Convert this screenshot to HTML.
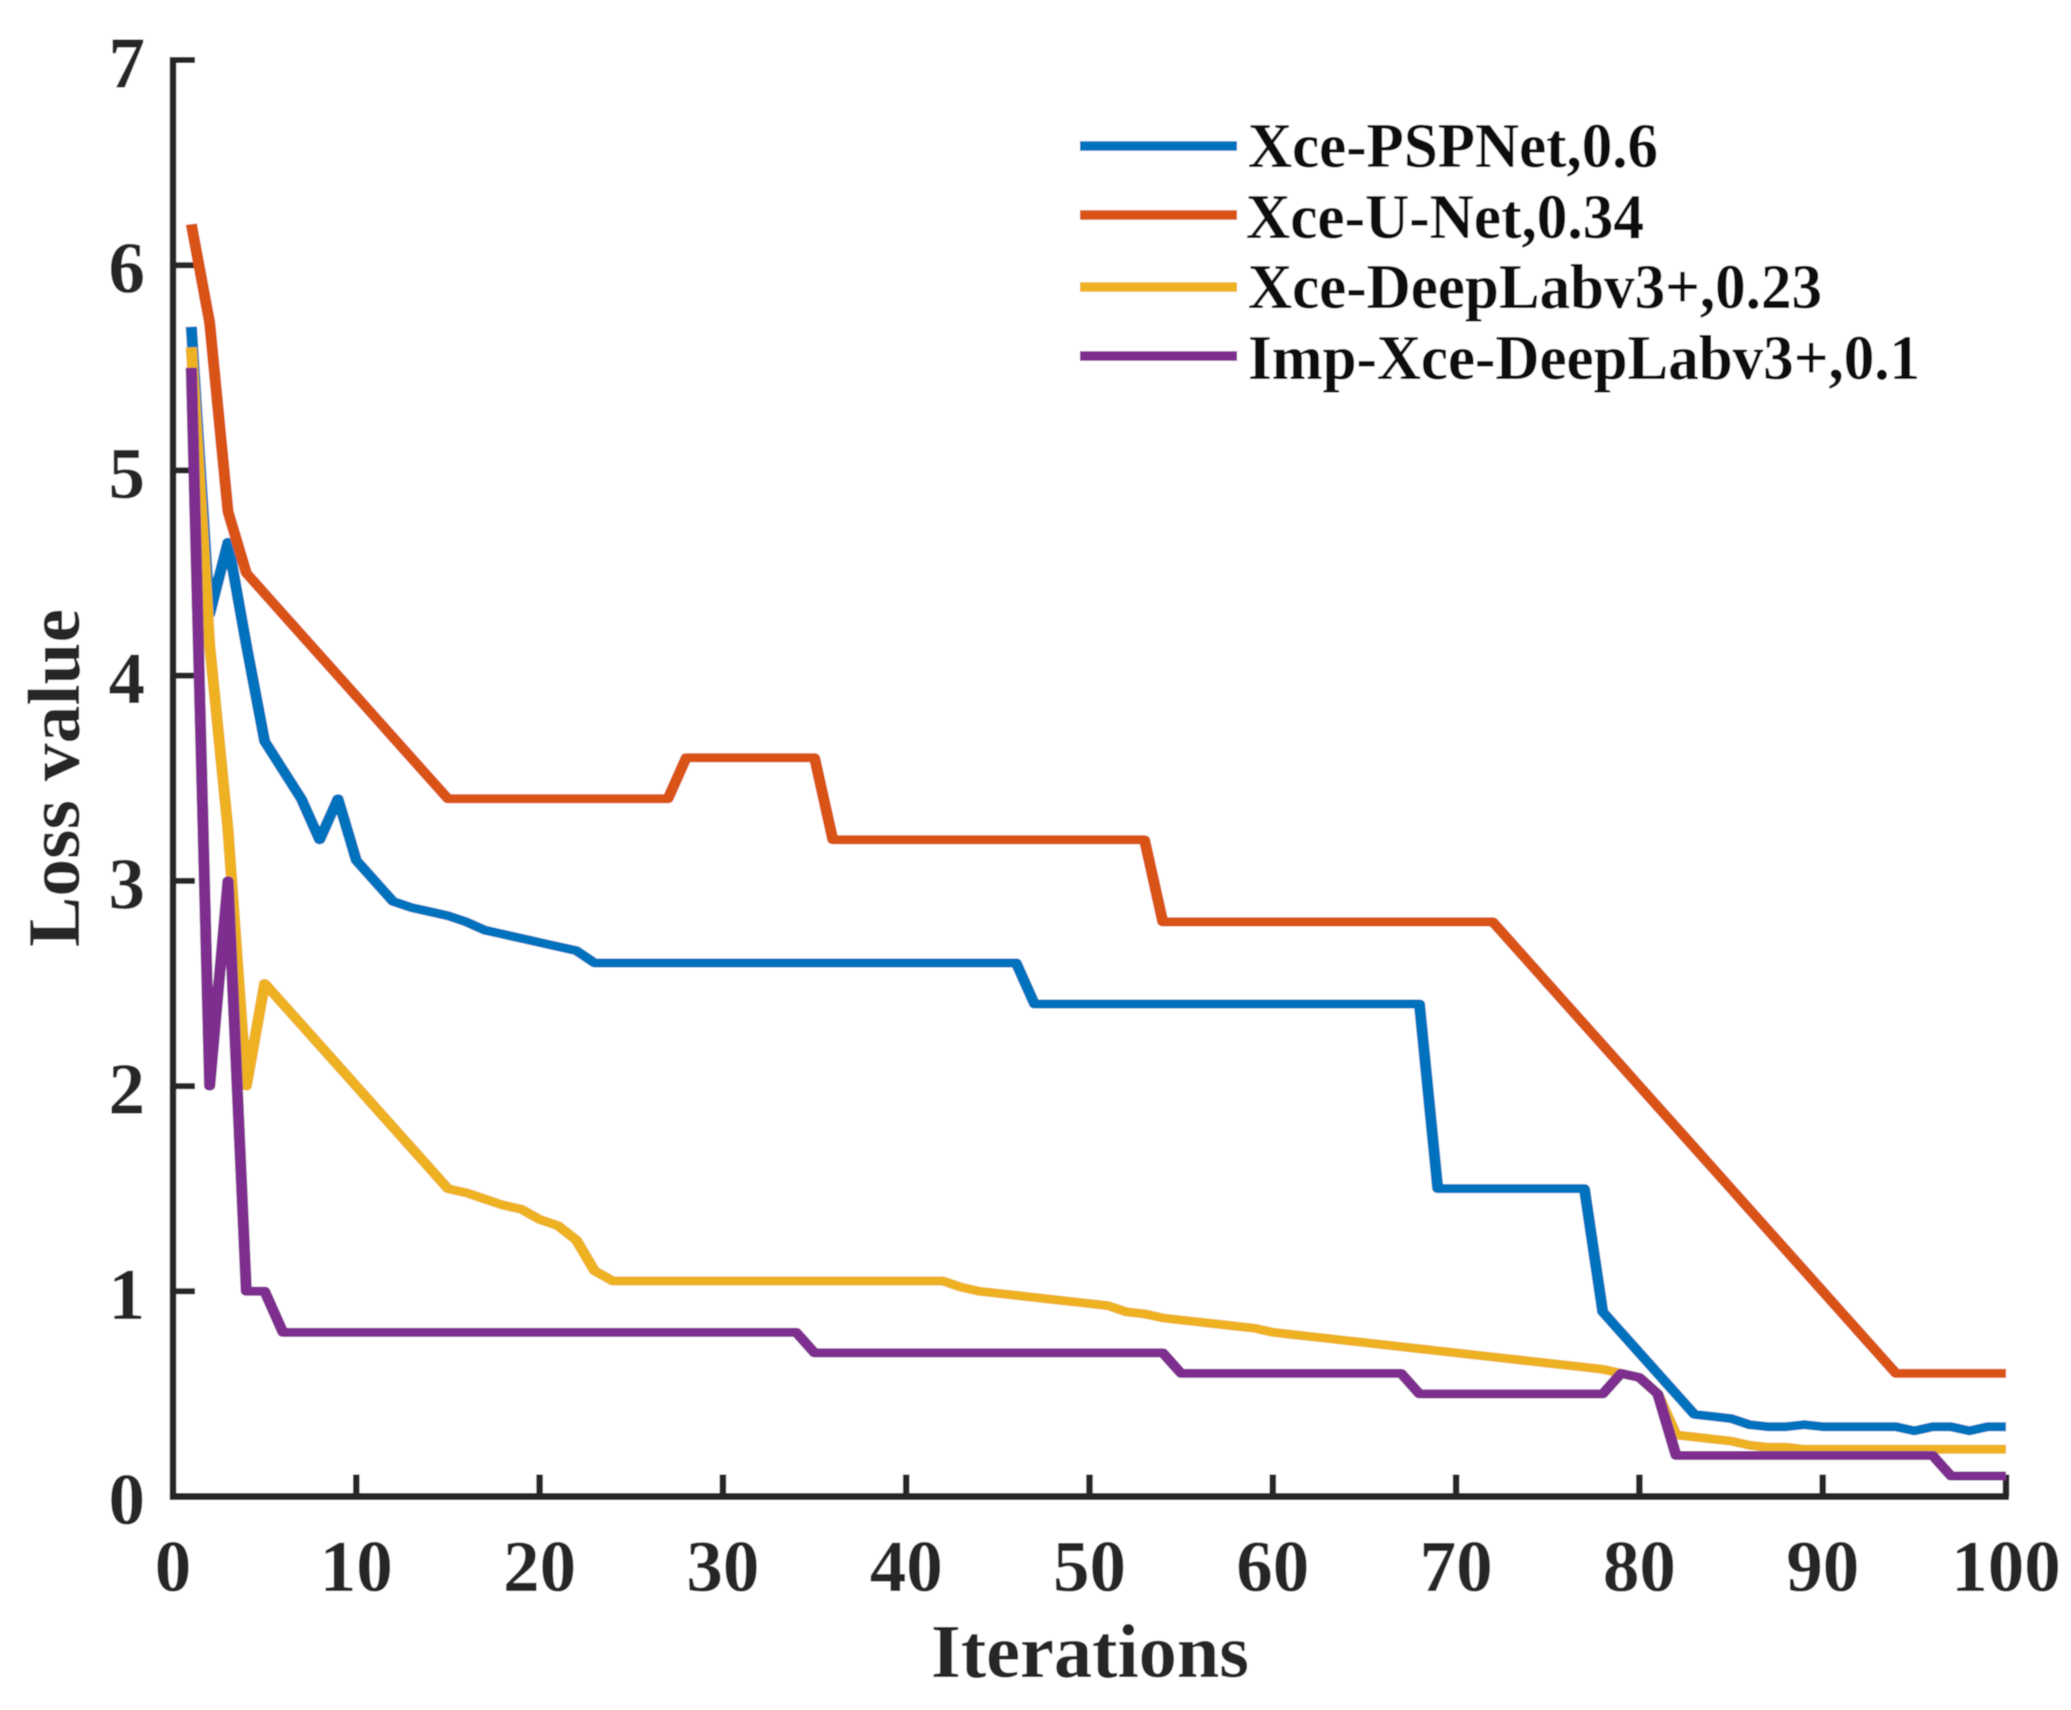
<!DOCTYPE html>
<html lang="en">
<head>
<meta charset="utf-8">
<title>Loss value vs iterations</title>
<style>
html,body{margin:0;padding:0;background:#fff;}
svg{display:block;}
text{font-family:"Liberation Serif",serif;font-weight:bold;fill:#262626;}
.leg{fill:#111;}
</style>
</head>
<body>
<svg id="chart" xmlns="http://www.w3.org/2000/svg" width="2071" height="1710" viewBox="0 0 2071 1710">
  <defs>
    <filter id="soft" x="0" y="0" width="100%" height="100%" filterUnits="objectBoundingBox">
      <feGaussianBlur stdDeviation="0.6"/>
    </filter>
  </defs>
  <rect x="0" y="0" width="2071" height="1710" fill="#ffffff"/>
  <g filter="url(#soft)">
  <rect x="0" y="0" width="2071" height="1710" fill="#ffffff"/>
  <g id="axes"></g>
  <g id="series" transform="scale(1.25 1)"></g>
  <text x="1090" y="1677" font-size="76" text-anchor="middle" textLength="318" lengthAdjust="spacingAndGlyphs">Iterations</text>
  <text transform="translate(79,778) rotate(-90)" font-size="74" text-anchor="middle" textLength="338" lengthAdjust="spacingAndGlyphs">Loss value</text>
  <g>
    <line x1="1080" x2="1237" y1="146" y2="146" stroke="#0072BD" stroke-width="9.5"/>
    <text class="leg" x="1248" y="167" font-size="63" textLength="410" lengthAdjust="spacingAndGlyphs">Xce-PSPNet,0.6</text>
    <line x1="1080" x2="1237" y1="215" y2="215" stroke="#D95319" stroke-width="9.5"/>
    <text class="leg" x="1246" y="238" font-size="63" textLength="398" lengthAdjust="spacingAndGlyphs">Xce-U-Net,0.34</text>
    <line x1="1080" x2="1237" y1="287" y2="287" stroke="#EDB120" stroke-width="9.5"/>
    <text class="leg" x="1248" y="308" font-size="63" textLength="574" lengthAdjust="spacingAndGlyphs">Xce-DeepLabv3+,0.23</text>
    <line x1="1080" x2="1237" y1="356" y2="356" stroke="#7E2F8E" stroke-width="9.5"/>
    <text class="leg" x="1248" y="379" font-size="63" textLength="672" lengthAdjust="spacingAndGlyphs">Imp-Xce-DeepLabv3+,0.1</text>
  </g>
  </g>
</svg>
<script>
const xTickLabels = [0, 10, 20, 30, 40, 50, 60, 70, 80, 90, 100];
const yTickLabels = [0, 1, 2, 3, 4, 5, 6, 7];
const xceUNet = [
  6.2, 5.72, 4.8, 4.5, 4.4, 4.3, 4.2, 4.1, 4.0, 3.9,
  3.8, 3.7, 3.6, 3.5, 3.4, 3.4, 3.4, 3.4, 3.4, 3.4,
  3.4, 3.4, 3.4, 3.4, 3.4, 3.4, 3.4, 3.6, 3.6, 3.6,
  3.6, 3.6, 3.6, 3.6, 3.6, 3.2, 3.2, 3.2, 3.2, 3.2,
  3.2, 3.2, 3.2, 3.2, 3.2, 3.2, 3.2, 3.2, 3.2, 3.2,
  3.2, 3.2, 3.2, 2.8, 2.8, 2.8, 2.8, 2.8, 2.8, 2.8,
  2.8, 2.8, 2.8, 2.8, 2.8, 2.8, 2.8, 2.8, 2.8, 2.8,
  2.8, 2.8, 2.7, 2.6, 2.5, 2.4, 2.3, 2.2, 2.1, 2.0,
  1.9, 1.8, 1.7, 1.6, 1.5, 1.4, 1.3, 1.2, 1.1, 1.0,
  0.9, 0.8, 0.7, 0.6, 0.6, 0.6, 0.6, 0.6, 0.6, 0.6
];
const xcePSPNet = [
  5.7, 4.3, 4.65, 4.15, 3.68, 3.54, 3.4, 3.2, 3.4, 3.1,
  3.0, 2.9, 2.87, 2.85, 2.83, 2.8, 2.76, 2.74, 2.72, 2.7,
  2.68, 2.66, 2.6, 2.6, 2.6, 2.6, 2.6, 2.6, 2.6, 2.6,
  2.6, 2.6, 2.6, 2.6, 2.6, 2.6, 2.6, 2.6, 2.6, 2.6,
  2.6, 2.6, 2.6, 2.6, 2.6, 2.6, 2.4, 2.4, 2.4, 2.4,
  2.4, 2.4, 2.4, 2.4, 2.4, 2.4, 2.4, 2.4, 2.4, 2.4,
  2.4, 2.4, 2.4, 2.4, 2.4, 2.4, 2.4, 2.4, 1.5, 1.5,
  1.5, 1.5, 1.5, 1.5, 1.5, 1.5, 1.5, 0.9, 0.8, 0.7,
  0.6, 0.5, 0.4, 0.39, 0.38, 0.35, 0.34, 0.34, 0.35, 0.34,
  0.34, 0.34, 0.34, 0.34, 0.32, 0.34, 0.34, 0.32, 0.34, 0.34
];
const xceDeepLab = [
  5.6, 4.15, 3.25, 2.0, 2.5, 2.4, 2.3, 2.2, 2.1, 2.0,
  1.9, 1.8, 1.7, 1.6, 1.5, 1.48, 1.45, 1.42, 1.4, 1.35,
  1.32, 1.25, 1.1, 1.05, 1.05, 1.05, 1.05, 1.05, 1.05, 1.05,
  1.05, 1.05, 1.05, 1.05, 1.05, 1.05, 1.05, 1.05, 1.05, 1.05,
  1.05, 1.05, 1.02, 1.0, 0.99, 0.98, 0.97, 0.96, 0.95, 0.94,
  0.93, 0.9, 0.89, 0.87, 0.86, 0.85, 0.84, 0.83, 0.82, 0.8,
  0.79, 0.78, 0.77, 0.76, 0.75, 0.74, 0.73, 0.72, 0.71, 0.7,
  0.69, 0.68, 0.67, 0.66, 0.65, 0.64, 0.63, 0.62, 0.6, 0.58,
  0.5, 0.3, 0.29, 0.28, 0.27, 0.25, 0.24, 0.24, 0.23, 0.23,
  0.23, 0.23, 0.23, 0.23, 0.23, 0.23, 0.23, 0.23, 0.23, 0.23
];
const impXceDeepLab = [
  5.5, 2.0, 3.0, 1.0, 1.0, 0.8, 0.8, 0.8, 0.8, 0.8,
  0.8, 0.8, 0.8, 0.8, 0.8, 0.8, 0.8, 0.8, 0.8, 0.8,
  0.8, 0.8, 0.8, 0.8, 0.8, 0.8, 0.8, 0.8, 0.8, 0.8,
  0.8, 0.8, 0.8, 0.8, 0.7, 0.7, 0.7, 0.7, 0.7, 0.7,
  0.7, 0.7, 0.7, 0.7, 0.7, 0.7, 0.7, 0.7, 0.7, 0.7,
  0.7, 0.7, 0.7, 0.7, 0.6, 0.6, 0.6, 0.6, 0.6, 0.6,
  0.6, 0.6, 0.6, 0.6, 0.6, 0.6, 0.6, 0.5, 0.5, 0.5,
  0.5, 0.5, 0.5, 0.5, 0.5, 0.5, 0.5, 0.5, 0.6, 0.58,
  0.5, 0.2, 0.2, 0.2, 0.2, 0.2, 0.2, 0.2, 0.2, 0.2,
  0.2, 0.2, 0.2, 0.2, 0.2, 0.2, 0.1, 0.1, 0.1, 0.1
];

const NS = 'http://www.w3.org/2000/svg';
const X0 = 173, X100 = 2006, Y0 = 1496.5, Y7 = 60;
const STROKE_STRETCH = 1.25;
function xScale(v) { return X0 + (X100 - X0) * v / 100; }
function yScale(v) { return Y0 - (Y0 - Y7) * v / 7; }

const seriesGroup = document.getElementById('series');
const axesGroup = document.getElementById('axes');

function drawSeries(values, color, name) {
  const pts = values.map((v, i) => (xScale(i + 1) / STROKE_STRETCH).toFixed(2) + ',' + yScale(v).toFixed(2)).join(' ');
  const el = document.createElementNS(NS, 'polyline');
  el.setAttribute('points', pts);
  el.setAttribute('fill', 'none');
  el.setAttribute('stroke', color);
  el.setAttribute('stroke-width', '9');
  el.setAttribute('stroke-linejoin', 'round');
  
  
  seriesGroup.appendChild(el);
}
drawSeries(xcePSPNet, '#0072BD', 'series-xce-pspnet');
drawSeries(xceUNet, '#D95319', 'series-xce-unet');
drawSeries(xceDeepLab, '#EDB120', 'series-xce-deeplab');
drawSeries(impXceDeepLab, '#7E2F8E', 'series-imp-xce-deeplab');

function axisLine(x1, y1, x2, y2, width, name) {
  const el = document.createElementNS(NS, 'line');
  el.setAttribute('x1', x1);
  el.setAttribute('y1', y1);
  el.setAttribute('x2', x2);
  el.setAttribute('y2', y2);
  el.setAttribute('stroke', '#262626');
  el.setAttribute('stroke-width', width);
  
  
  axesGroup.appendChild(el);
}
function tickLabel(x, y, anchor, str, name) {
  const el = document.createElementNS(NS, 'text');
  el.setAttribute('x', x);
  el.setAttribute('y', y);
  el.setAttribute('text-anchor', anchor);
  el.setAttribute('font-size', '73');
  
  
  el.textContent = str;
  axesGroup.appendChild(el);
}

axisLine(X0, Y7 - 3, X0, Y0 + 3.5, 6.5, 'y-axis-line');
axisLine(X0 - 3, Y0, X100 + 3, Y0, 7, 'x-axis-line');

yTickLabels.forEach(function (v) {
  const y = yScale(v);
  if (v > 0) {
    axisLine(X0, y, X0 + 22, y, 6, 'y-tick-' + v);
  }
  tickLabel(145, y + 27.5, 'end', String(v), 'y-tick-label-' + v);
});
xTickLabels.forEach(function (v) {
  const x = xScale(v);
  if (v > 0) {
    axisLine(x, Y0, x, Y0 - 22, 6.5, 'x-tick-' + v);
  }
  tickLabel(x, 1591, 'middle', String(v), 'x-tick-label-' + v);
});
</script>
</body>
</html>
